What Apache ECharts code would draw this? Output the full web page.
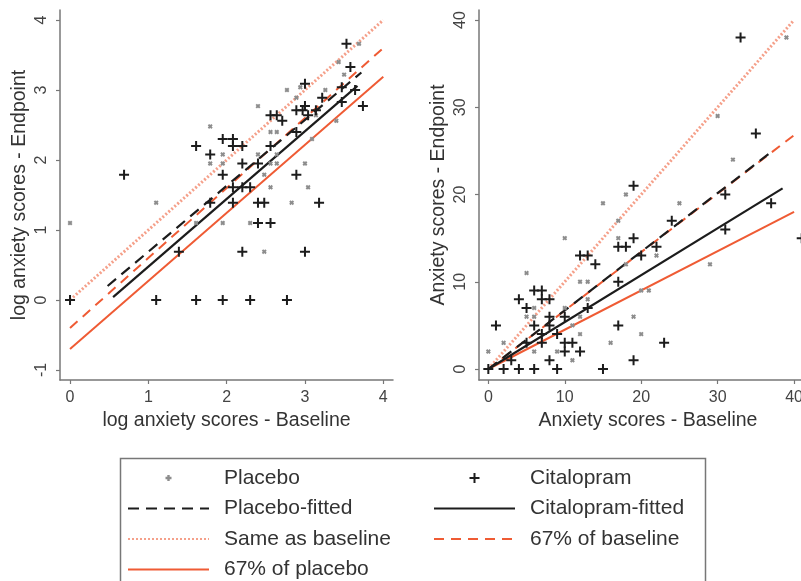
<!DOCTYPE html>
<html>
<head>
<meta charset="utf-8">
<script src="https://cdn.jsdelivr.net/npm/echarts@6/dist/echarts.min.js"></script>
<style>
  html, body { margin: 0; padding: 0; background: #fff; }
  #chart { width: 801px; height: 581px; }
</style>
</head>
<body>
<div id="chart"></div>
<script>
// left panel: log(score + 1), right panel: raw scores
var logTicksX = [0, 1, 2, 3, 4];
var logTicksY = [-1, 0, 1, 2, 3, 4];
var rawTicks = [0, 10, 20, 30, 40];

var logPlacebo = [
  [0, 1.10], [1.10, 1.39], [1.61, 1.10], [1.79, 2.48], [1.79, 1.95], [1.95, 2.08], [1.95, 1.95],
  [1.95, 1.10], [2.30, 1.10], [2.40, 2.77], [2.40, 2.08], [2.48, 1.79], [2.48, 0.69], [2.56, 2.40],
  [2.64, 2.40], [2.56, 1.61], [2.64, 1.95], [2.56, 1.95], [2.64, 2.08], [2.77, 3.00], [2.83, 1.39],
  [2.89, 2.89], [2.94, 3.04], [3.00, 1.95], [3.04, 1.61], [3.09, 2.30], [3.14, 2.64], [3.26, 3.00],
  [3.40, 2.56], [3.43, 3.40], [3.50, 3.22], [3.69, 3.66]
];
var logCitalopram = [
  [0, 0], [0.69, 1.79], [1.10, 0], [1.61, 0], [1.95, 0], [2.30, 0], [2.77, 0], [1.39, 0.69],
  [1.61, 2.20], [1.79, 2.08], [1.79, 1.39], [1.95, 2.30], [1.95, 1.79], [2.08, 2.30], [2.08, 2.20],
  [2.20, 2.20], [2.08, 1.61], [2.08, 1.39], [2.20, 1.95], [2.20, 1.61], [2.30, 1.61], [2.20, 0.69],
  [2.40, 1.95], [2.40, 1.39], [2.48, 1.39], [2.40, 1.10], [2.56, 1.10], [2.56, 2.20], [2.56, 2.64],
  [2.64, 2.64], [2.71, 2.56], [2.89, 1.79], [2.89, 2.40], [2.89, 2.71], [3.00, 3.09], [2.97, 2.71],
  [3.00, 2.77], [3.04, 2.64], [3.14, 2.71], [3.00, 0.69], [3.18, 1.39], [3.22, 2.89], [3.47, 3.04],
  [3.47, 2.83], [3.53, 3.66], [3.58, 3.33], [3.64, 3.00], [3.74, 2.77]
];
var logPlaceboFit = [[0.48, 0.20], [3.72, 3.25]];
var logCitalopramFit = [[0.55, 0.04], [3.67, 3.06]];
var logSameBaseline = [[0, 0], [4, 4]];
var log67Baseline = [[0, -0.40], [4, 3.60]];
var log67Placebo = [[0, -0.70], [4, 3.19]];

var rawPlacebo = [
  [0, 2], [2, 3], [5, 11], [5, 6], [6, 7], [6, 6], [6, 2], [9, 2], [10, 15], [10, 7], [11, 1],
  [11, 5], [12, 10], [12, 6], [12, 4], [13, 10], [13, 8], [15, 19], [16, 3], [17, 17], [17, 15],
  [18, 20], [18, 12], [19, 6], [20, 4], [20, 9], [21, 9], [22, 13], [25, 19], [29, 12], [30, 29],
  [32, 24], [39, 38]
];
var rawCitalopram = [
  [0, 0], [1, 5], [2, 0], [3, 1], [4, 0], [4, 8], [5, 7], [5, 3], [6, 9], [6, 5], [6, 0], [7, 9],
  [7, 8], [7, 4], [7, 3], [8, 8], [8, 6], [8, 5], [8, 1], [9, 0], [9, 4], [10, 6], [10, 3], [10, 2],
  [11, 3], [12, 13], [13, 13], [12, 2], [13, 7], [14, 12], [15, 0], [17, 14], [18, 14], [17, 10],
  [17, 5], [19, 21], [19, 15], [19, 1], [20, 13], [22, 14], [23, 3], [24, 17], [31, 20], [31, 16],
  [33, 38], [35, 27], [37, 19], [41, 15]
];
var rawPlaceboFit = [[0, 0], [37.2, 25.0]];
var rawCitalopramFit = [[0, 0], [38.5, 20.7]];
var rawSameBaseline = [[0, 0], [40, 40]];
var raw67Baseline = [[0, 0], [40, 26.8]];
var raw67Placebo = [[0, 0], [40, 18.0]];

var FONT = 'Liberation Sans, Arial, sans-serif';
var BLACK = '#1c1c1c', ORANGE = '#ef5b34', SALMON = '#f5a08a', GRAY = '#777';
var PLUS = 'path://M4,0H6V4H10V6H6V10H4V6H0V4H4Z';
var CROSS = 'path://M3,0H7V3H10V7H7V10H3V7H0V3H3Z';

function xAxis(idx, min, max, ticks, name) {
  return {
    gridIndex: idx, type: 'value', min: min, max: max,
    name: name, nameLocation: 'middle', nameGap: 26,
    nameTextStyle: { fontSize: 19.5, color: '#333', fontFamily: FONT },
    axisLine: { show: true, onZero: false, lineStyle: { color: GRAY, width: 1.5 } },
    axisTick: { show: true, customValues: ticks, length: 4, lineStyle: { color: GRAY, width: 1.2 } },
    axisLabel: { customValues: ticks, fontSize: 16, color: '#444', margin: 10, fontFamily: FONT },
    splitLine: { show: false }
  };
}
function yAxis(idx, min, max, ticks, name) {
  return {
    gridIndex: idx, type: 'value', min: min, max: max,
    name: name, nameLocation: 'middle', nameGap: 30, nameRotate: 90,
    nameTextStyle: { fontSize: 19.5, color: '#333', fontFamily: FONT },
    axisLine: { show: true, onZero: false, lineStyle: { color: GRAY, width: 1.5 } },
    axisTick: { show: true, customValues: ticks, length: 4, lineStyle: { color: GRAY, width: 1.2 } },
    axisLabel: { customValues: ticks, fontSize: 16, color: '#444', margin: 10, rotate: 90, fontFamily: FONT },
    splitLine: { show: false }
  };
}
function points(idx, name, data, isPlacebo) {
  return {
    type: 'scatter', name: name, xAxisIndex: idx, yAxisIndex: idx, data: data,
    symbol: isPlacebo ? CROSS : PLUS,
    symbolSize: isPlacebo ? 5 : 10,
    symbolRotate: isPlacebo ? 45 : 0,
    itemStyle: { color: isPlacebo ? '#8d8d8d' : BLACK, opacity: 1 },
    z: 3
  };
}
function line(idx, name, data, color, width, type) {
  return {
    type: 'line', name: name, xAxisIndex: idx, yAxisIndex: idx, data: data,
    symbol: 'none', lineStyle: { color: color, width: width, type: type, cap: 'butt' },
    itemStyle: { color: color }, z: 2
  };
}
function panel(idx, pl, ci, plFit, ciFit, same, b67, p67) {
  return [
    points(idx, 'Placebo', pl, true),
    points(idx, 'Citalopram', ci, false),
    line(idx, 'Same as baseline', same, SALMON, 3, [2, 2]),
    line(idx, '67% of baseline', b67, ORANGE, 2, [10, 7]),
    line(idx, '67% of placebo', p67, ORANGE, 2, 'solid'),
    line(idx, 'Placebo-fitted', plFit, BLACK, 2.2, [11, 7]),
    line(idx, 'Citalopram-fitted', ciFit, BLACK, 2.2, 'solid')
  ];
}

var legendText = { fontSize: 21, color: '#333', fontFamily: FONT, lineHeight: 22, padding: [0, 0, 0, 10] };
// hide the symbol drawn on the line icons, keep it for the point series
var shown = { opacity: 1 };

var myChart = echarts.init(document.getElementById('chart'), null, { renderer: 'canvas' });
myChart.setOption({
  animation: false,
  textStyle: { fontFamily: FONT },
  grid: [
    { left: 60, top: 10, width: 333, height: 370, outerBoundsMode: 'none' },
    { left: 479, top: 10, width: 338, height: 370, outerBoundsMode: 'none' }
  ],
  xAxis: [
    xAxis(0, -0.128, 4.124, logTicksX, 'log anxiety scores - Baseline'),
    xAxis(1, -1.22, 43, rawTicks, 'Anxiety scores - Baseline')
  ],
  yAxis: [
    yAxis(0, -1.143, 4.143, logTicksY, 'log anxiety scores - Endpoint'),
    yAxis(1, -1.26, 41.15, rawTicks, 'Anxiety scores - Endpoint')
  ],
  legend: [
    {
      orient: 'vertical', left: 127, top: 467, height: 114, padding: 0,
      itemWidth: 81, itemHeight: 6, itemGap: 8.5,
      selectedMode: false, textStyle: legendText, itemStyle: { opacity: 0 },
      data: [{ name: 'Placebo', itemStyle: shown }, 'Placebo-fitted', 'Same as baseline', '67% of placebo']
    },
    {
      orient: 'vertical', left: 433, top: 467, height: 114, padding: 0,
      itemWidth: 81, itemHeight: 10, itemGap: 8.5,
      selectedMode: false, textStyle: legendText, itemStyle: { opacity: 0 },
      data: [{ name: 'Citalopram', itemStyle: shown }, 'Citalopram-fitted', '67% of baseline']
    }
  ],
  graphic: [{
    type: 'rect', left: 118, top: 456, silent: true,
    shape: { width: 585, height: 140 },
    style: { fill: 'none', stroke: GRAY, lineWidth: 1.5 }
  }],
  series: panel(0, logPlacebo, logCitalopram, logPlaceboFit, logCitalopramFit, logSameBaseline, log67Baseline, log67Placebo)
    .concat(panel(1, rawPlacebo, rawCitalopram, rawPlaceboFit, rawCitalopramFit, rawSameBaseline, raw67Baseline, raw67Placebo))
});
</script>
</body>
</html>
